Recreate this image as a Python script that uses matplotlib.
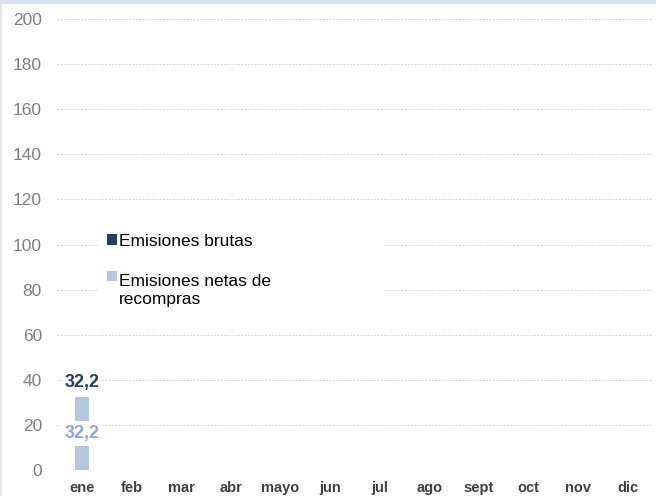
import matplotlib
matplotlib.use("Agg")
import matplotlib.pyplot as plt
from matplotlib.patches import Rectangle, Patch
import numpy as np

plt.rcParams['font.family'] = ['Liberation Sans', 'DejaVu Sans']

months = ["ene", "feb", "mar", "abr", "mayo", "jun", "jul", "ago", "sept", "oct", "nov", "dic"]
brutas = [32.2]        # Emisiones brutas (only January reported)
netas = [32.2]         # Emisiones netas de recompras
y_ticks = [0, 20, 40, 60, 80, 100, 120, 140, 160, 180, 200]

dark = "#243f60"
light = "#b3c7e1"
light_txt = "#8faad0"

fig = plt.figure(figsize=(6.56, 4.96), dpi=100)
ax = fig.add_axes([0.0872, 0.0524, 0.9078, 0.9093])

x = np.arange(len(months))
xb = x[:len(brutas)]
width = 0.3
ax.bar(xb, brutas, width=width, color=dark, linewidth=0, zorder=2)
ax.bar(xb, netas, width=width, color=light, linewidth=0, zorder=3)

for xi, v in zip(xb, brutas):
    ax.annotate(f"{v:.1f}".replace(".", ","), (xi, v), xytext=(0, 10.5),
                textcoords="offset points", ha="center", va="center",
                fontsize=13, fontweight="bold", color=dark, zorder=5,
                bbox=dict(boxstyle="square,pad=0.12", fc="white", ec="none"))
for xi, v in zip(xb, netas):
    ax.text(xi, v / 2, f"{v:.1f}".replace(".", ","), ha="center", va="center",
            fontsize=13, fontweight="bold", color=light_txt, zorder=5,
            bbox=dict(boxstyle="square,pad=0.22", fc="white", ec="none"))

ax.set_xlim(-0.5, len(months) - 0.5)
ax.set_ylim(0, 200)
ax.set_yticks(y_ticks)
ax.set_xticks(x)
ax.set_xticklabels(months, fontsize=10.5, fontweight="bold", color="#404040")
ax.tick_params(axis="y", length=0, pad=11, labelsize=12.5, labelcolor="#7f7f7f")
ax.tick_params(axis="x", length=0, pad=8)
ax.yaxis.grid(True, linestyle=(0, (2, 1.5)), color="#d4d4d4", linewidth=0.7, zorder=0)
ax.set_axisbelow(True)
for s in ax.spines.values():
    s.set_visible(False)

handles = [Patch(facecolor=dark, edgecolor="none"), Patch(facecolor=light, edgecolor="none")]
leg = ax.legend(handles, ["Emisiones brutas", "Emisiones netas de\nrecompras"],
                loc="upper left", bbox_to_anchor=(0.069, 0.443, 0.478, 0.1), mode="expand",
                frameon=True, fontsize=12.5, handlelength=0.55, handleheight=0.55,
                handletextpad=0.15, labelspacing=1.45, borderpad=0.5, borderaxespad=0,
                fancybox=False)
leg.get_frame().set_facecolor("white")
leg.get_frame().set_edgecolor("none")
leg.get_frame().set_alpha(1)
leg.set_zorder(6)
for t in leg.get_texts():
    t.set_color("#000000")
    t.set_linespacing(1.25)
# align the second key with the first line of its two-line label
h2 = leg.legend_handles[1]
h2.set_y(h2.get_y() + 10.5)

# frame accents along the top and left edges
fig.patches.append(Rectangle((0, 1 - 4 / 496), 1, 4 / 496, transform=fig.transFigure,
                             facecolor="#d9e3f0", edgecolor="none", zorder=0))
fig.patches.append(Rectangle((0, 0), 1.5 / 656, 1, transform=fig.transFigure,
                             facecolor="#e6e6e6", edgecolor="none", zorder=0))

fig.savefig("out.png", dpi=100)
